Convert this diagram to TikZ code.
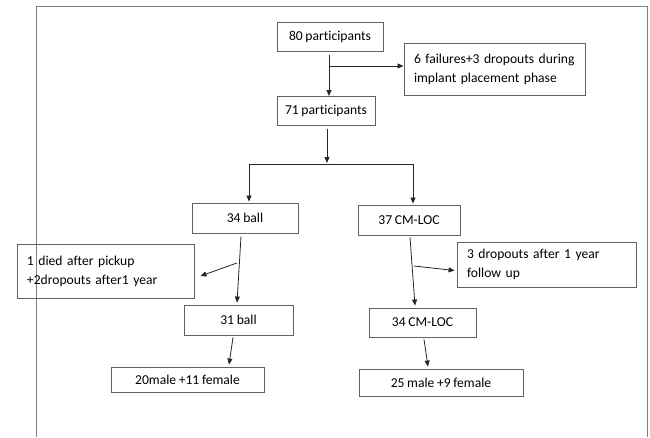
\documentclass[tikz,border=0pt]{standalone}
\usepackage{fontspec}
\setmainfont[RawFeature={-liga},WordSpace={0.85,0,0}]{Carlito}
\usetikzlibrary{arrows.meta,calc}
\hyphenpenalty=10000
\exhyphenpenalty=10000
\begin{document}
\begin{tikzpicture}[x=1pt,y=-1pt,
  box/.style={draw=black!62,line width=0.9pt,inner sep=0pt,font={\fontsize{13.6}{19}\selectfont},text=black},
  multibox/.style={box,align=left,inner xsep=10pt},
  arr/.style={draw=black!85,line width=0.8pt,-{Triangle[length=6pt,width=5pt]}},
  conn/.style={draw=black!85,line width=0.8pt},
  frame/.style={draw=black!50,line width=1pt}]
\useasboundingbox (0,0) rectangle (650,437);
% frame
\draw[frame] (36,437) -- (36,6) -- (647.5,6) -- (647.5,437);
% nodes
\node[box,minimum width=106pt,minimum height=29pt] (n80) at (330,36.5) {80 participants};
\node[multibox,text width=161pt,minimum height=52pt] (fail) at (494.5,69) {6 failures+3 dropouts during\\implant placement phase};
\node[box,minimum width=98pt,minimum height=29pt] (n71) at (326,111) {71 participants};
\node[box,minimum width=106pt,minimum height=30pt] (b34) at (245,218) {34 ball};
\node[box,minimum width=102pt,minimum height=30pt] (c37) at (409,220) {37 CM-LOC};
\node[multibox,text width=157pt,minimum height=54pt] (died) at (105.5,271) {1 died after pickup\\+2dropouts after1 year};
\node[multibox,text width=159pt,minimum height=45pt] (drop3) at (546.5,264.5) {3 dropouts after 1 year\\follow up};
\node[box,minimum width=109pt,minimum height=30pt] (b31) at (238.5,320) {31 ball};
\node[box,minimum width=107pt,minimum height=29pt] (c34) at (422.5,322.5) {34 CM-LOC};
\node[box,minimum width=153pt,minimum height=25pt] (m20) at (187.5,379.5) {20male +11 female};
\node[box,minimum width=164pt,minimum height=27pt] (m25) at (441,382.5) {25 male +9 female};
% helper coordinates
\coordinate (br1) at (329,66);
\coordinate (hl) at (249,164);
\coordinate (hr) at (413,164);
\coordinate (s1) at (237,263);
\coordinate (s2) at (414,266);
% connectors
\draw[arr,shorten <=4pt] ([xshift=-1pt]n80.south) -- ([xshift=-1pt]n80.south |- n71.north);
\draw[arr] (br1) -- (br1 -| fail.west);
\draw[arr,shorten <=3pt,shorten >=1pt] ([xshift=1pt]n71.south) -- ([xshift=1pt]n71.south |- hl);
\draw[conn] (hl) -- (hr);
\draw[arr,shorten >=1pt] (hl) -- (hl |- b34.north);
\draw[arr,shorten >=1pt] (hr) -- (hr |- c37.north);
\draw[arr] ([xshift=-4pt,yshift=-3pt]b34.south) -- ([xshift=-1.5pt,yshift=2pt]b31.north);
\draw[arr] (s1) -- ([xshift=6pt,yshift=-5pt]died.east);
\draw[arr] ([xshift=1pt,yshift=-2pt]c37.south) -- ([xshift=-7.5pt,yshift=2pt]c34.north);
\draw[arr] (s2) -- ([xshift=-2pt,yshift=-6pt]drop3.west);
\draw[arr] ([xshift=-5.5pt,yshift=-2pt]b31.south) -- ([xshift=41.5pt,yshift=2pt]m20.north);
\draw[arr] ([xshift=1.5pt,yshift=-2pt]c34.south) -- ([xshift=-13pt,yshift=2pt]m25.north);
\end{tikzpicture}
\end{document}
